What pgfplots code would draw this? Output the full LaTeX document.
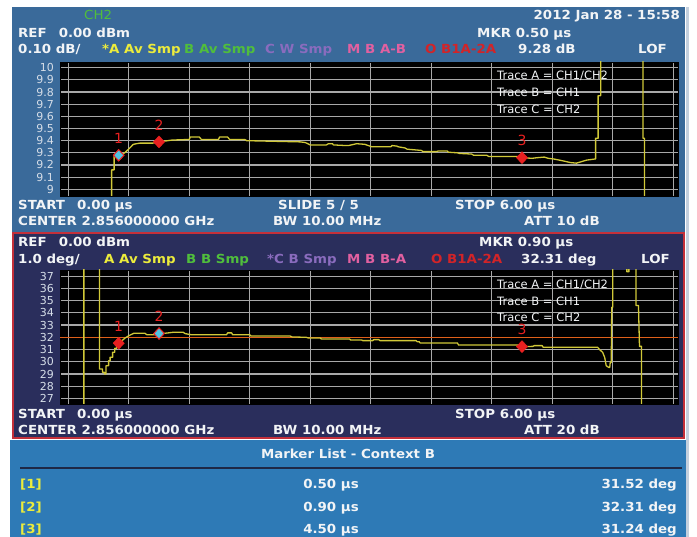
\documentclass[border=0pt]{standalone}
\usepackage{pgfplots}
\pgfplotsset{compat=1.18}
\usepackage{fontspec}
\setmainfont{DejaVu Sans}
\newfontfamily\hdr{DejaVu Sans}[FakeStretch=1.07]

\definecolor{panelA}{RGB}{58,106,154}
\definecolor{panelB}{RGB}{42,46,92}
\definecolor{panelC}{RGB}{46,122,182}
\definecolor{frameRed}{RGB}{196,48,58}
\definecolor{trc}{RGB}{208,200,56}
\definecolor{ylw}{RGB}{236,236,60}
\definecolor{grn}{RGB}{80,190,60}
\definecolor{prp}{RGB}{138,108,190}
\definecolor{pnk}{RGB}{226,96,160}
\definecolor{rd}{RGB}{210,36,40}
\definecolor{mkred}{RGB}{232,32,32}
\definecolor{mkcyan}{RGB}{80,196,224}
\definecolor{orng}{RGB}{224,96,26}
\definecolor{gridc}{RGB}{168,168,168}
\definecolor{txt}{RGB}{242,244,246}
\definecolor{tickc}{RGB}{214,222,232}
\definecolor{sepc}{RGB}{30,40,70}
\definecolor{strip}{RGB}{196,208,222}

\newcommand\hd{\hdr\bfseries\fontsize{12.5}{12.5}\selectfont}
\newcommand\tr{\fontsize{11.5}{11.5}\selectfont}
\newcommand\nm{\fontsize{14}{14}\selectfont}
\newcommand\gap{\hspace*{12pt}}

\pgfplotsset{
  scopeaxis/.style={
    scale only axis, width=618pt, height=134pt,
    anchor=south west,
    axis background/.style={fill=black},
    xmin=-0.082, xmax=6.047,
    xtick={0,0.6,1.2,1.8,2.4,3.0,3.6,4.2,4.8,5.4,6.0},
    xticklabels={},
    grid=major,
    major grid style={gridc, line width=1.2pt},
    major tick length=0pt,
    axis line style={black},
    yticklabel style={font=\fontsize{11}{11}\selectfont, text=tickc, inner sep=0pt, xshift=-6pt},
    /pgf/number format/assume math mode=true,
    clip=true,
  },
  tracestyle/.style={trc, line width=1.3pt, line join=round},
  mk/.style={only marks, mark=diamond*, mark size=6pt,
    mark options={xscale=1.25, fill=mkred, draw=mkred}},
  mknum/.style={point meta=explicit symbolic, nodes near coords,
    every node near coord/.append style={anchor=center, yshift=17pt, text=mkred, font=\nm}},
}

\begin{document}
\begin{tikzpicture}[x=1pt,y=-1pt]
% screen background and panels
\fill[white] (0,0) rectangle (697,537);
\fill[panelA] (12,7) rectangle (685,232);
\fill[panelB] (12,232) rectangle (685,439);
\draw[frameRed, line width=1.5pt] (13,233) rectangle (684,438);
\fill[panelC] (10,440) rectangle (686,537);
\draw[sepc, line width=1.2pt] (20,468) -- (682,468);
\fill[strip] (686,7) rectangle (689,537);

% ---------- upper display: ratio in dB ----------
\node[anchor=base west, inner sep=0pt, text=grn, font=\hdr\fontsize{12.5}{12.5}\selectfont] at (84,19.5) {CH2};
\node[anchor=base east, inner sep=0pt, text=txt, font=\hd] at (680,19.5) {2012 Jan 28 - 15:58};
\node[anchor=base west, inner sep=0pt, text=txt, font=\hd] at (18,37.8) {REF\gap 0.00 dBm};
\node[anchor=base west, inner sep=0pt, text=txt, font=\hd] at (477,37.8) {MKR 0.50 µs};
\node[anchor=base west, inner sep=0pt, text=txt, font=\hd] at (18,54) {0.10 dB/};
\node[anchor=base west, inner sep=0pt, text=ylw, font=\hd] at (102,54) {*A Av Smp};
\node[anchor=base west, inner sep=0pt, text=grn, font=\hd] at (184,54) {B Av Smp};
\node[anchor=base west, inner sep=0pt, text=prp, font=\hd] at (265,54) {C W Smp};
\node[anchor=base west, inner sep=0pt, text=pnk, font=\hd] at (347,54) {M B A-B};
\node[anchor=base west, inner sep=0pt, text=rd, font=\hd] at (425,54) {O B1A-2A};
\node[anchor=base west, inner sep=0pt, text=txt, font=\hd] at (518,54) {9.28 dB};
\node[anchor=base west, inner sep=0pt, text=txt, font=\hd] at (638,54) {LOF};

\begin{axis}[scopeaxis, at={(60pt,-196pt)},
  ymin=8.945, ymax=10.047,
  ytick={9,9.1,9.2,9.3,9.4,9.5,9.6,9.7,9.8,9.9,10},
  yticklabels={9,9.1,9.2,9.3,9.4,9.5,9.6,9.7,9.8,9.9,10}]
\addplot[tracestyle] coordinates {
 (0.430,8.50) (0.430,9.16) (0.455,9.16) (0.455,9.27) (0.500,9.28)
 (0.560,9.30) (0.610,9.34) (0.645,9.37) (0.710,9.38) (0.840,9.38)
 (0.900,9.39) (1.030,9.405) (1.200,9.41) (1.210,9.43) (1.300,9.43)
 (1.320,9.41) (1.490,9.41) (1.500,9.43) (1.580,9.43) (1.600,9.41)
 (1.750,9.41) (1.770,9.40) (2.300,9.39) (2.350,9.385) (2.400,9.365)
 (2.560,9.365) (2.580,9.375) (2.620,9.375) (2.630,9.365) (2.750,9.36)
 (2.780,9.36) (2.860,9.375) (2.940,9.37) (3.010,9.35) (3.200,9.35)
 (3.210,9.36) (3.260,9.355) (3.270,9.35) (3.340,9.34) (3.360,9.33)
 (3.500,9.32) (3.520,9.31) (3.650,9.31) (3.670,9.315) (3.760,9.315)
 (3.770,9.305) (3.860,9.30) (3.880,9.295) (4.000,9.29) (4.020,9.28)
 (4.150,9.28) (4.170,9.27) (4.450,9.27) (4.500,9.26) (4.600,9.255)
 (4.650,9.26) (4.720,9.265) (4.760,9.255) (4.810,9.25) (4.900,9.235)
 (4.980,9.22) (5.040,9.215) (5.100,9.23) (5.140,9.24) (5.230,9.25)
 (5.230,9.42) (5.255,9.42) (5.255,9.77) (5.280,9.77) (5.280,10.6)
 (5.700,10.6) (5.700,9.42) (5.715,9.42) (5.715,8.50)
};
\addplot[mk, mknum] coordinates {(0.5,9.28)[1] (0.9,9.39)[2] (4.5,9.26)[3]};
\addplot[only marks, mark=diamond*, mark size=5.5pt,
  mark options={xscale=1.25, fill=mkcyan, draw=mkred, line width=0.8pt}]
  coordinates {(0.5,9.28)};
\end{axis}

\node[anchor=base west, inner sep=0pt, text=txt, font=\tr] at (497,79.9) {Trace A = CH1/CH2};
\node[anchor=base west, inner sep=0pt, text=txt, font=\tr] at (497,96.5) {Trace B = CH1};
\node[anchor=base west, inner sep=0pt, text=txt, font=\tr] at (497,113.2) {Trace C = CH2};

\node[anchor=base west, inner sep=0pt, text=txt, font=\hd] at (18,209.5) {START\gap 0.00 µs};
\node[anchor=base west, inner sep=0pt, text=txt, font=\hd] at (278,209.5) {SLIDE 5 / 5};
\node[anchor=base west, inner sep=0pt, text=txt, font=\hd] at (455,209.5) {STOP 6.00 µs};
\node[anchor=base west, inner sep=0pt, text=txt, font=\hd] at (18,226) {CENTER 2.856000000 GHz};
\node[anchor=base west, inner sep=0pt, text=txt, font=\hd] at (273,226) {BW 10.00 MHz};
\node[anchor=base west, inner sep=0pt, text=txt, font=\hd] at (524,226) {ATT 10 dB};

% ---------- lower display: phase in degrees ----------
\node[anchor=base west, inner sep=0pt, text=txt, font=\hd] at (18,246.5) {REF\gap 0.00 dBm};
\node[anchor=base west, inner sep=0pt, text=txt, font=\hd] at (479,246.5) {MKR 0.90 µs};
\node[anchor=base west, inner sep=0pt, text=txt, font=\hd] at (18,263.5) {1.0 deg/};
\node[anchor=base west, inner sep=0pt, text=ylw, font=\hd] at (104,263.5) {A Av Smp};
\node[anchor=base west, inner sep=0pt, text=grn, font=\hd] at (186,263.5) {B B Smp};
\node[anchor=base west, inner sep=0pt, text=prp, font=\hd] at (267,263.5) {*C B Smp};
\node[anchor=base west, inner sep=0pt, text=pnk, font=\hd] at (347,263.5) {M B B-A};
\node[anchor=base west, inner sep=0pt, text=rd, font=\hd] at (431,263.5) {O B1A-2A};
\node[anchor=base west, inner sep=0pt, text=txt, font=\hd] at (521,263.5) {32.31 deg};
\node[anchor=base west, inner sep=0pt, text=txt, font=\hd] at (641,263.5) {LOF};

\begin{axis}[scopeaxis, at={(60pt,-404pt)},
  ymin=26.55, ymax=37.5,
  ytick={27,28,29,30,31,32,33,34,35,36,37},
  yticklabels={27,28,29,30,31,32,33,34,35,36,37}]
\addplot[orng, line width=1.2pt] coordinates {(-0.082,32) (6.047,32)};
\addplot[tracestyle] coordinates {
 (0.155,25) (0.155,39) (0.310,39) (0.310,29.41) (0.340,29.41)
 (0.340,29.14) (0.360,29.14) (0.360,29.00) (0.375,29.00) (0.375,29.68)
 (0.400,29.68) (0.400,30.09) (0.415,30.09) (0.415,30.37) (0.440,30.37)
 (0.440,30.78) (0.460,30.78) (0.460,31.10) (0.480,31.10) (0.480,31.40)
 (0.500,31.52) (0.530,31.70) (0.560,31.92) (0.600,32.13) (0.650,32.33)
 (0.760,32.33) (0.780,32.21) (0.860,32.21) (0.880,32.31) (0.960,32.33)
 (1.040,32.41) (1.140,32.41) (1.160,32.30) (1.220,32.21) (1.570,32.21)
 (1.580,32.36) (1.620,32.36) (1.630,32.21) (1.800,32.21) (1.810,32.11)
 (2.200,32.11) (2.220,32.03) (2.360,32.00) (2.380,31.95) (2.500,31.95)
 (2.510,31.86) (2.790,31.86) (2.800,31.78) (2.910,31.78) (2.920,31.73)
 (3.020,31.73) (3.030,31.81) (3.080,31.81) (3.090,31.73) (3.450,31.73)
 (3.460,31.64) (3.480,31.64) (3.490,31.54) (3.860,31.54) (3.870,31.37)
 (4.470,31.37) (4.500,31.24) (4.610,31.26) (4.620,31.32) (4.700,31.32)
 (4.710,31.18) (5.250,31.18) (5.270,30.99) (5.300,30.77) (5.320,30.36)
 (5.335,29.68) (5.360,29.54) (5.370,29.54) (5.375,29.95) (5.385,29.95)
 (5.390,34.46) (5.400,34.46) (5.400,38.5) (5.540,38.5) (5.540,37.35)
 (5.560,37.35) (5.560,38.5) (5.630,38.5) (5.630,34.60) (5.655,34.60)
 (5.665,31.26) (5.685,31.26) (5.685,25)
};
\addplot[mk, mknum] coordinates {(0.5,31.52)[1] (0.9,32.31)[2] (4.5,31.24)[3]};
\addplot[only marks, mark=diamond*, mark size=5.5pt,
  mark options={xscale=1.25, fill=mkcyan, draw=mkred, line width=0.8pt}]
  coordinates {(0.9,32.31)};
\end{axis}

\node[anchor=base west, inner sep=0pt, text=txt, font=\tr] at (497,288.2) {Trace A = CH1/CH2};
\node[anchor=base west, inner sep=0pt, text=txt, font=\tr] at (497,305.2) {Trace B = CH1};
\node[anchor=base west, inner sep=0pt, text=txt, font=\tr] at (497,322) {Trace C = CH2};

\node[anchor=base west, inner sep=0pt, text=txt, font=\hd] at (18,418.5) {START\gap 0.00 µs};
\node[anchor=base west, inner sep=0pt, text=txt, font=\hd] at (455,418.5) {STOP 6.00 µs};
\node[anchor=base west, inner sep=0pt, text=txt, font=\hd] at (18,434.5) {CENTER 2.856000000 GHz};
\node[anchor=base west, inner sep=0pt, text=txt, font=\hd] at (273,434.5) {BW 10.00 MHz};
\node[anchor=base west, inner sep=0pt, text=txt, font=\hd] at (524,434.5) {ATT 20 dB};

% ---------- marker table ----------
\node[anchor=base, inner sep=0pt, text=txt, font=\hd] at (348,458.8) {Marker List - Context B};
\foreach \yy/\idx/\tm/\vv in {489/1/0.50/31.52, 511.3/2/0.90/32.31, 533.5/3/4.50/31.24}{
  \node[anchor=base west, inner sep=0pt, text=ylw, font=\hd] at (20,\yy) {[\idx]};
  \node[anchor=base, inner sep=0pt, text=txt, font=\hd] at (331,\yy) {\tm\ µs};
  \node[anchor=base east, inner sep=0pt, text=txt, font=\hd] at (677,\yy) {\vv\ deg};
}
\end{tikzpicture}
\end{document}
